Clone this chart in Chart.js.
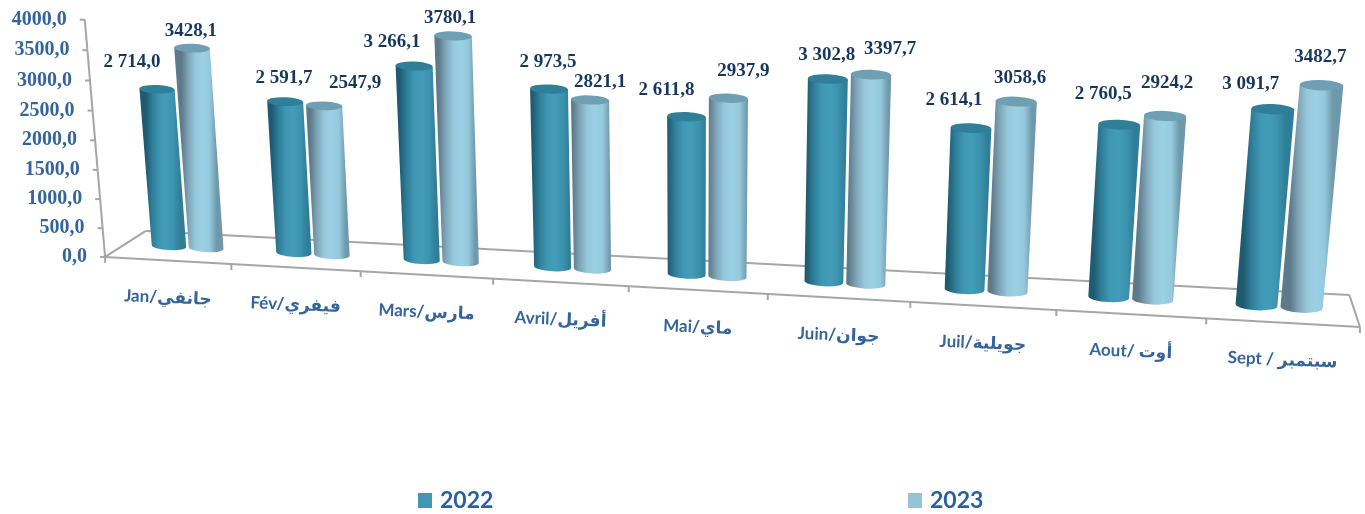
<!DOCTYPE html>
<html lang="fr">

<head>
    <meta charset="UTF-8">
    <title>2022 / 2023</title>
    <script src="https://cdn.jsdelivr.net/npm/chart.js"></script>
    <style>
        body {
            margin: 0;
            background-color: #ffffff;
        }
    </style>
</head>

<body>
    <canvas id="grafico" width="1365" height="514"></canvas>

    <script>
// Datos
const mois = ['Jan/جانفي', 'Fév/فيفري', 'Mars/مارس', 'Avril/أفريل', 'Mai/ماي', 'Juin/جوان', 'Juil/جويلية', 'Aout/ أوت', 'Sept / سبتمبر'];
const valeurs2022 = [2714.0, 2591.7, 3266.1, 2973.5, 2611.8, 3302.8, 2614.1, 2760.5, 3091.7];
const valeurs2023 = [3428.1, 2547.9, 3780.1, 2821.1, 2937.9, 3397.7, 3058.6, 2924.2, 3482.7];

// Decalage manuel des etiquettes par rapport au haut du cylindre
const decalage2022 = [[-25, -27], [-1, -24], [-22, -24], [-1, -27], [-20, -27], [-1, -24], [-17, -28], [-16, -31], [-22, -25]];
const decalage2023 = [[-1, -17], [31, -23], [-3, -18], [10, -18], [15, -27], [19, -25], [4, -24], [2, -33], [-1, -28]];

// Perspective du graphique 3D: i = rang du mois, t = valeur / max, z = profondeur (1 devant, -1 derriere)
const P = {
    x0: 187.5, xi: 121.76, xt: -22.8, xz: -23.1,
    y0: 247, yi: 3.92, yt: -234.4, yz: 8.08,
    wi: -0.01147, wt: -0.033, wz: -0.0206
};

function projeter(i, t, z) {
    const w = 1 + P.wi * i + P.wt * t + P.wz * z;
    return {
        x: (P.x0 + P.xi * i + P.xt * t + P.xz * z) / w,
        y: (P.y0 + P.yi * i + P.yt * t + P.yz * z) / w
    };
}

// Convertit un pixel du chartArea en point projete
function depuisPixel(chart, px, py, z) {
    const a = chart.chartArea;
    const i = (px - a.left) / (a.width / mois.length) - 0.5;
    const t = (a.bottom - py) / a.height;
    return projeter(i, t, z);
}

function formatEspace(v) {
    const s = v.toFixed(1).replace('.', ',');
    return v >= 1000 ? s.slice(0, -5) + ' ' + s.slice(-5) : s;
}

function formatSimple(v) {
    return v.toFixed(1).replace('.', ',');
}

function ellipse(ctx, g, d, debut, fin, sens) {
    const cx = (g.x + d.x) / 2, cy = (g.y + d.y) / 2;
    const rx = Math.hypot(d.x - g.x, d.y - g.y) / 2;
    ctx.ellipse(cx, cy, rx, rx * 0.24, Math.atan2(d.y - g.y, d.x - g.x), debut, fin, sens);
}

function cylindre(chart, el, couleurs) {
    const ctx = chart.ctx;
    const hg = depuisPixel(chart, el.x - el.width / 2, el.y, 0);
    const hd = depuisPixel(chart, el.x + el.width / 2, el.y, 0);
    const bg = depuisPixel(chart, el.x - el.width / 2, el.base, 0);
    const bd = depuisPixel(chart, el.x + el.width / 2, el.base, 0);

    const grad = ctx.createLinearGradient((hg.x + bg.x) / 2, 0, (hd.x + bd.x) / 2, 0);
    couleurs.corps.forEach(function (c, n) {
        grad.addColorStop(n / (couleurs.corps.length - 1), c);
    });

    ctx.save();
    ctx.beginPath();
    ctx.moveTo(hg.x, hg.y);
    ctx.lineTo(bg.x, bg.y);
    ellipse(ctx, bg, bd, Math.PI, 0, true);
    ctx.lineTo(hd.x, hd.y);
    ellipse(ctx, hd, hg, 0, Math.PI, true);
    ctx.closePath();
    ctx.fillStyle = grad;
    ctx.fill();

    ctx.beginPath();
    ellipse(ctx, hg, hd, 0, Math.PI * 2, false);
    ctx.fillStyle = couleurs.dessus;
    ctx.fill();
    ctx.restore();
}

function ligne(ctx, a, b) {
    ctx.beginPath();
    ctx.moveTo(a.x, a.y);
    ctx.lineTo(b.x, b.y);
    ctx.stroke();
}

const couleurs = [
    { corps: ['#1f5a70', '#2f7f9a', '#3f97b3', '#439db9', '#3d93ae', '#2f7e97'], dessus: '#2f7f98', carre: '#4298b3' },
    { corps: ['#5c7a8a', '#7fa6b8', '#97c8dc', '#9bd0e5', '#95c9dd', '#6f98aa'], dessus: '#6f9fb2', carre: '#93c3d6' }
];
const decalages = [decalage2022, decalage2023];
const formats = [formatEspace, formatSimple];

const dessin3D = {
    id: 'dessin3D',
    // Sol et axes, derriere les cylindres
    beforeDatasetsDraw(chart) {
        const ctx = chart.ctx;
        const n = mois.length;
        const yScale = chart.scales.y;
        const xScale = chart.scales.x;
        const fin = n - 0.5;

        ctx.save();
        ctx.strokeStyle = '#a6a6a6';
        ctx.lineWidth = 2;
        ligne(ctx, projeter(-0.5, 0, 1), projeter(fin, 0, 1));
        ligne(ctx, projeter(-0.5, 0, -1), projeter(fin, 0, -1));
        ligne(ctx, projeter(-0.5, 0, 1), projeter(-0.5, 0, -1));
        ligne(ctx, projeter(fin, 0, 1), projeter(fin, 0, -1));
        ligne(ctx, projeter(-0.5, 0, 1), projeter(-0.5, 1, 1));

        // Graduations verticales
        ctx.font = 'bold 20px "Liberation Serif"';
        ctx.fillStyle = '#35649b';
        ctx.textAlign = 'right';
        ctx.textBaseline = 'middle';
        yScale.ticks.forEach(function (tick) {
            const t = tick.value / yScale.max;
            const p = projeter(-0.5, t, 1);
            ligne(ctx, { x: p.x - 5, y: p.y }, p);
            ctx.fillText(formatSimple(tick.value), p.x - 18, p.y);
        });

        // Graduations du bas
        for (let k = -0.5; k <= fin; k++) {
            const p = projeter(k, 0, 1);
            ligne(ctx, p, { x: p.x, y: p.y + 6 });
        }

        // Mois
        ctx.font = 'bold 17px Lato, "DejaVu Sans"';
        ctx.fillStyle = '#35649b';
        ctx.textAlign = 'center';
        xScale.ticks.forEach(function (tick, k) {
            const p = projeter(k, 0, 1);
            ctx.save();
            ctx.translate(p.x, p.y + 37);
            ctx.rotate(0.04);
            ctx.fillText(mois[k], 0, 0);
            ctx.restore();
        });
        ctx.restore();
    },
    // Les cylindres remplacent les barres de la bibliotheque
    beforeDatasetDraw(chart, args) {
        const meta = chart.getDatasetMeta(args.index);
        meta.data.forEach(function (el) {
            cylindre(chart, el, couleurs[args.index]);
        });
        return false;
    },
    // Etiquettes et legende, au-dessus de tout
    afterDatasetsDraw(chart) {
        const ctx = chart.ctx;
        ctx.save();
        ctx.font = 'bold 19px "Liberation Serif"';
        ctx.fillStyle = '#17375e';
        ctx.textAlign = 'center';
        ctx.textBaseline = 'middle';
        chart.data.datasets.forEach(function (ds, d) {
            chart.getDatasetMeta(d).data.forEach(function (el, k) {
                const p = depuisPixel(chart, el.x, el.y, 0);
                const dec = decalages[d][k];
                ctx.fillText(formats[d](ds.data[k]), p.x + dec[0], p.y + dec[1]);
            });
        });

        const posLegende = [418, 908];
        ctx.font = 'bold 23px Lato';
        ctx.textAlign = 'left';
        chart.data.datasets.forEach(function (ds, d) {
            ctx.fillStyle = couleurs[d].carre;
            ctx.fillRect(posLegende[d], 493, 14, 15);
            ctx.fillStyle = '#2a5fa5';
            ctx.fillText(ds.label, posLegende[d] + 22, 501);
        });
        ctx.restore();
    }
};

new Chart(document.getElementById('grafico'), {
    type: 'bar',
    data: {
        labels: mois,
        datasets: [
            { label: '2022', data: valeurs2022, backgroundColor: '#4298b3' },
            { label: '2023', data: valeurs2023, backgroundColor: '#93c3d6' }
        ]
    },
    options: {
        responsive: false,
        animation: false,
        categoryPercentage: 0.6,
        barPercentage: 0.93,
        layout: { padding: { left: 105, right: 5, top: 18, bottom: 258 } },
        plugins: { legend: { display: false }, tooltip: { enabled: false } },
        scales: {
            x: { grid: { display: false }, border: { display: false }, ticks: { display: false } },
            y: {
                min: 0,
                max: 4000,
                grid: { display: false },
                border: { display: false },
                ticks: { display: false, stepSize: 500 }
            }
        }
    },
    plugins: [dessin3D]
});
    </script>
</body>

</html>
